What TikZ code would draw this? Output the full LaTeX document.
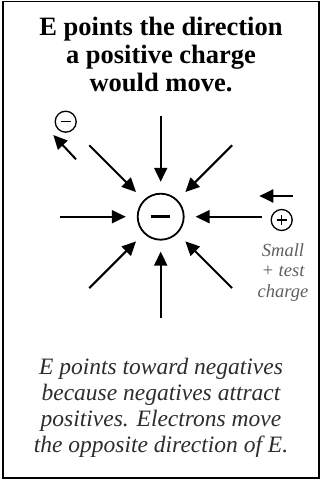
\documentclass[tikz,border=0pt]{standalone}
\usepackage{fontspec}
\setmainfont{Liberation Serif}
\usetikzlibrary{arrows.meta}
\definecolor{textgray}{RGB}{45, 45, 45}
\definecolor{labelgray}{RGB}{95, 95, 95}

\begin{document}
\begin{tikzpicture}[x=1pt, y=-1pt,
    field/.style={line width=2, -{Triangle[length=14pt, width=13pt]}},
    charge/.style={circle, draw, inner sep=0}]

  \useasboundingbox (0, 0) rectangle (323, 481);
  \draw[line width=1.5] (3, 1.5) rectangle (319, 478);

  % title
  \node[align=center, anchor=north, inner sep=0,
        font=\fontsize{26.5}{28}\selectfont\bfseries] (title) at (161, 16.6)
    {E points the direction\\a positive charge\\would move.};

  % central negative charge
  \node[charge, line width=1.8, minimum size=46] (neg) at (160.7, 216.7) {\rule{19pt}{3pt}};

  \foreach \ang in {0, 45, ..., 315} {
    \coordinate (f\ang) at ([shift={(\ang:101)}]neg.center);
    \draw[field, shorten >=11] (f\ang) -- (neg);
  }

  % small negative charge, pushed away
  \node[charge, line width=1.3, minimum size=21] (qneg) at (65.7, 121.7) {\rule{10pt}{1.4pt}};
  \coordinate (qnegtail) at (76, 159.3);
  \coordinate (qnegtip) at (53.3, 135);
  \draw[field] (qnegtail) -- (qnegtip);

  % small positive test charge, pulled in
  \node[charge, line width=1.3, minimum size=21] (qpos) at (281.7, 220) {};
  \draw[line width=1.4] (qpos.center) ++(-5, 0) -- ++(10, 0)
                        (qpos.center) ++(0, -5) -- ++(0, 10);
  \coordinate (qpostail) at (292.7, 196);
  \coordinate (qpostip) at (259.3, 196);
  \draw[field] (qpostail) -- (qpostip);

  \node[anchor=north, inner sep=0, align=center, text=labelgray,
        font=\fontsize{18.5}{20.7}\selectfont\itshape] (testlabel) at (283, 243)
    {Small\\+ test\\charge};

  % explanation
  \node[align=center, anchor=north, inner sep=0, text=textgray,
        font=\fontsize{23.5}{26}\selectfont\itshape] (note) at (161, 357.5)
    {E points toward negatives\\because negatives attract\\positives. Electrons move\\the opposite direction of E.};

\end{tikzpicture}
\end{document}
